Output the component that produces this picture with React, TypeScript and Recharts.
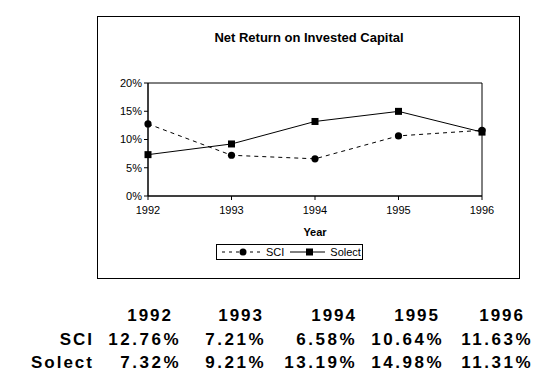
import React from 'react';
import { LineChart, Line, XAxis, YAxis, Legend, ReferenceArea } from 'recharts';

const years = ['1992', '1993', '1994', '1995', '1996'];
const sciValues = [12.76, 7.21, 6.58, 10.64, 11.63];
const solectValues = [7.32, 9.21, 13.19, 14.98, 11.31];
const yTicks = [0, 5, 10, 15, 20];
const seriesNames = ['SCI', 'Solect'];
const chartTitle = 'Net Return on Invested Capital';
const xTitle = 'Year';

const data = years.map((y, i) => ({ year: y, SCI: sciValues[i], Solect: solectValues[i] }));

const FONT = '"Liberation Sans", Arial, sans-serif';

const SquareDot = (props: any) => {
  const { cx, cy, index } = props;
  if (cx == null || cy == null) return <g key={`sq-${index}`} />;
  return <rect key={`sq-${index}`} x={cx - 3.5} y={cy - 3.5} width={7} height={7} fill="#000" />;
};

const CircleDot = (props: any) => {
  const { cx, cy, index } = props;
  if (cx == null || cy == null) return <g key={`ci-${index}`} />;
  return <circle key={`ci-${index}`} cx={cx} cy={cy} r={3.6} fill="#000" />;
};

const LegendBox = () => (
  <div
    style={{
      border: '1px solid #000',
      height: 16,
      width: 147,
      boxSizing: 'border-box',
      display: 'flex',
      alignItems: 'center',
      fontSize: 11,
      fontFamily: FONT,
      background: '#fff',
      color: '#000',
    }}
  >
    <svg width={38} height={10} style={{ marginLeft: 5 }}>
      <line x1={0} y1={5} x2={38} y2={5} stroke="#000" strokeDasharray="3 4" />
      <circle cx={21} cy={5} r={3.5} fill="#000" />
    </svg>
    <span style={{ marginLeft: 6 }}>{seriesNames[0]}</span>
    <svg width={35} height={10} style={{ marginLeft: 6 }}>
      <line x1={0} y1={5} x2={35} y2={5} stroke="#000" />
      <rect x={16} y={1.5} width={7} height={7} fill="#000" />
    </svg>
    <span style={{ marginLeft: 5 }}>{seriesNames[1]}</span>
  </div>
);

const headerRight = [173, 264, 357, 440, 525];
const valueRight = [181, 266, 357, 444, 533];
const rowCenters = [316, 340, 363];
const labelRight = 94;

const cellStyle = (right: number, centerY: number, spacing: number): React.CSSProperties => ({
  position: 'absolute',
  right: 538 - right,
  top: centerY - 10,
  lineHeight: '20px',
  height: 20,
  fontSize: 17,
  fontWeight: 'bold',
  letterSpacing: spacing,
  whiteSpace: 'nowrap',
  fontFamily: FONT,
  color: '#000',
});

export default function App() {
  const rows = [sciValues, solectValues];
  return (
    <div style={{ position: 'absolute', left: 0, top: 0, width: 538, height: 379, background: '#fff', fontFamily: FONT }}>
      <div
        style={{
          position: 'absolute',
          left: 97,
          top: 16,
          width: 423,
          height: 263,
          border: '1px solid #000',
          boxSizing: 'border-box',
        }}
      >
        <LineChart
          width={421}
          height={261}
          data={data}
          margin={{ top: 66, right: 37, left: 0, bottom: 0 }}
          style={{ fontFamily: FONT }}
        >
          <ReferenceArea x1="1992" x2="1996" y1={0} y2={20} fill="none" stroke="#000" strokeWidth={1} ifOverflow="visible" />
          <XAxis
            dataKey="year"
            height={82}
            interval={0}
            tickSize={4}
            tickMargin={6}
            axisLine={{ stroke: '#000' }}
            tickLine={{ stroke: '#000' }}
            tick={{ fill: '#000', fontSize: 11 }}
            label={{ value: xTitle, position: 'insideTop', offset: 32, fill: '#000', fontSize: 11, fontWeight: 'bold' }}
          />
          <YAxis
            width={50}
            domain={[0, 20]}
            ticks={yTicks}
            interval={0}
            tickSize={4}
            tickMargin={2}
            tickFormatter={(v: number) => `${v}%`}
            axisLine={{ stroke: '#000' }}
            tickLine={{ stroke: '#000' }}
            tick={{ fill: '#000', fontSize: 11 }}
          />
          <Legend
            verticalAlign="middle"
            layout="horizontal"
            align="center"
            wrapperStyle={{ left: 118, top: 227, width: 147, height: 16 }}
            content={() => <LegendBox />}
          />
          <Line
            type="linear"
            dataKey="SCI"
            name={seriesNames[0]}
            stroke="#000"
            strokeWidth={1}
            strokeDasharray="4 4"
            dot={CircleDot}
            activeDot={false}
            isAnimationActive={false}
          />
          <Line
            type="linear"
            dataKey="Solect"
            name={seriesNames[1]}
            stroke="#000"
            strokeWidth={1}
            dot={SquareDot}
            activeDot={false}
            isAnimationActive={false}
          />
        </LineChart>
      </div>
      <div
        style={{
          position: 'absolute',
          left: 209,
          width: 200,
          top: 30,
          lineHeight: '16px',
          textAlign: 'center',
          fontSize: 13,
          fontWeight: 'bold',
          color: '#000',
        }}
      >
        {chartTitle}
      </div>
      {years.map((y, i) => (
        <div key={`h-${y}`} style={cellStyle(headerRight[i], rowCenters[0], 2)}>{y}</div>
      ))}
      {rows.map((vals, r) => (
        <React.Fragment key={`r-${r}`}>
          <div style={cellStyle(labelRight, rowCenters[r + 1], 2)}>{seriesNames[r]}</div>
          {vals.map((v, i) => (
            <div key={`v-${r}-${i}`} style={cellStyle(valueRight[i], rowCenters[r + 1], 2.5)}>{v.toFixed(2)}%</div>
          ))}
        </React.Fragment>
      ))}
    </div>
  );
}
